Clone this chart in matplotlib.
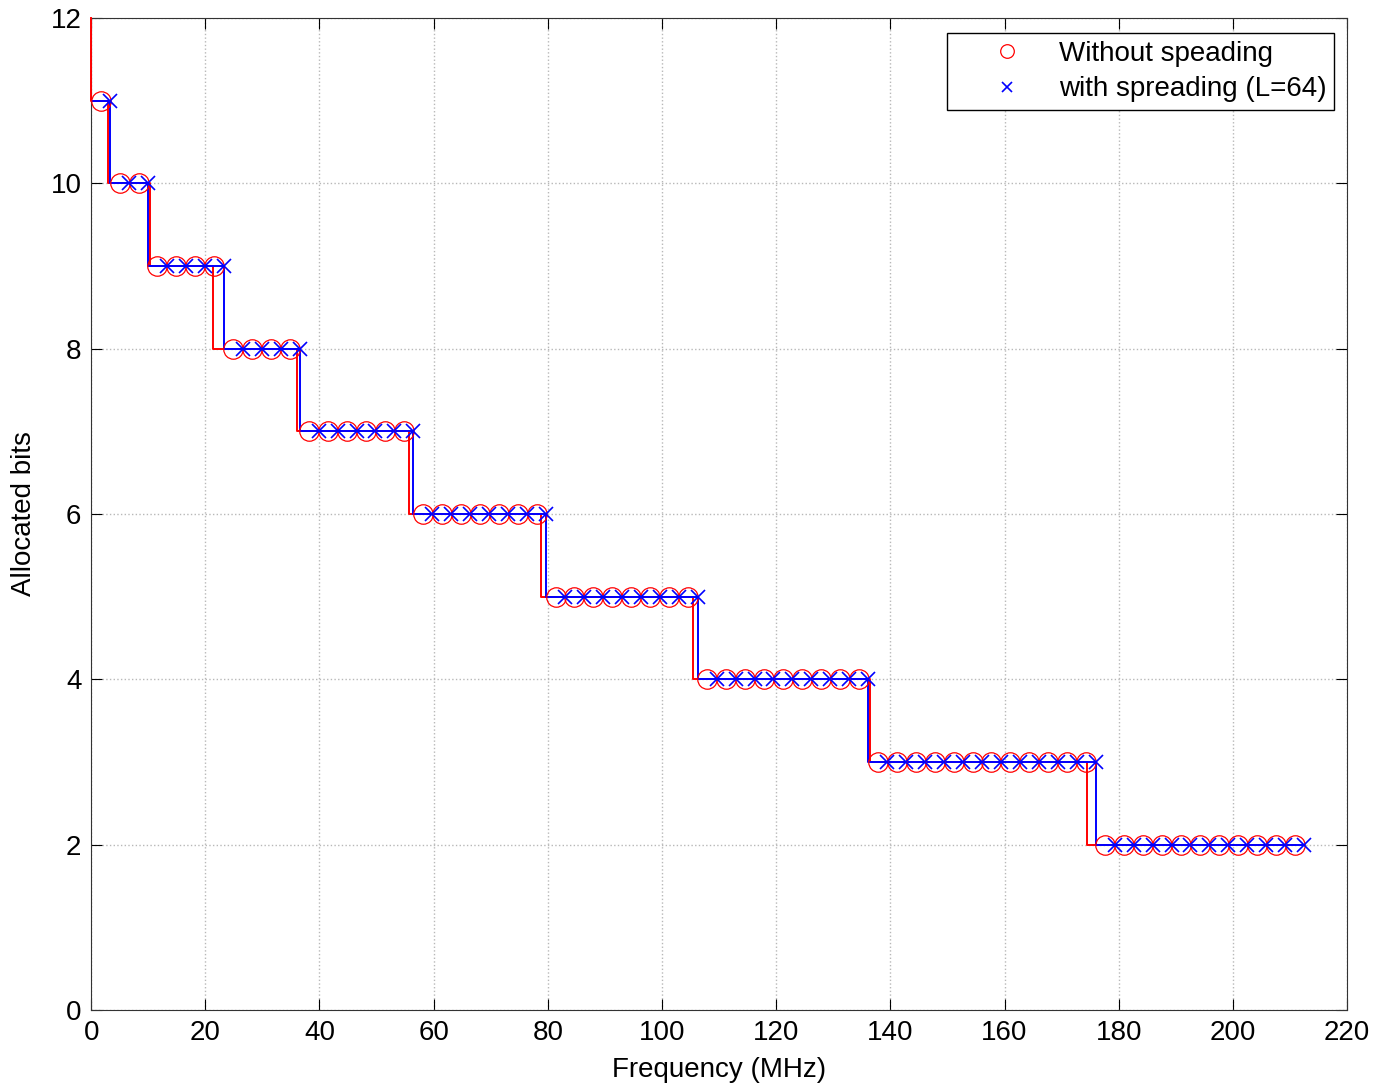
import numpy as np
import matplotlib.pyplot as plt

plt.rcParams['font.family'] = ['Liberation Sans', 'DejaVu Sans']

# --- data ---
DELTA = 3.3203                       # sub-band width (MHz), 212.5 / 64
bit_levels = [11, 10, 9, 8, 7, 6, 5, 4, 3, 2]
band_counts = [1, 2, 4, 4, 6, 7, 8, 9, 12, 11]   # sub-bands at each level

# frequencies (MHz) where the red (no spreading) curve drops a level
red_edges = [0.0, 3.0, 10.3, 21.4, 36.1, 55.7, 78.8, 105.4, 136.5, 174.5, 210.8]
red_start = 12

bits = np.repeat(bit_levels, band_counts)
k = np.arange(len(bits))
f_nospread = (k + 0.5) * DELTA       # circles sit at band centres
f_spread = (k + 1.0) * DELTA         # crosses sit at band edges

fig = plt.figure(figsize=(13.81, 10.86), dpi=100)
ax = fig.add_axes([0.066, 0.070, 0.9094, 0.9134])

# step lines
red_x = np.r_[red_edges[0], red_edges]
red_y = np.r_[red_start, bit_levels, bit_levels[-1]]
ax.step(red_x, red_y, where='post', color='red', lw=1.4, zorder=3, clip_on=False)
ax.step(np.r_[0, f_spread], np.r_[bit_levels[0], bits], where='pre',
        color='blue', lw=1.4, zorder=3)

# markers
ax.plot(f_nospread, bits, 'o', ls='none', mfc='none', mec='red', ms=14, mew=0.9,
        label='Without speading', zorder=3)
ax.plot(f_spread, bits, 'x', ls='none', color='blue', ms=10, mew=1.2,
        label='with spreading (L=64)', zorder=4)

ax.set_xlim(0, 220)
ax.set_ylim(0, 12)
ax.set_xticks(np.arange(0, 221, 20))
ax.set_yticks(np.arange(0, 13, 2))
ax.grid(True, ls=':', color='#b8b8b8', lw=1.0)
ax.tick_params(direction='in', top=True, right=True, length=8, labelsize=20, pad=7)
for s in ax.spines.values():
    s.set_color('#333333')
ax.set_xlabel('Frequency (MHz)', fontsize=20, labelpad=8)
ax.set_ylabel('Allocated bits', fontsize=20, labelpad=10)

leg = ax.legend(loc='upper right', fontsize=20, fancybox=False, framealpha=1,
                edgecolor='black', markerscale=0.7, handletextpad=0.0,
                borderpad=0.28, labelspacing=0.35, handlelength=3.74,
                borderaxespad=0, bbox_to_anchor=(0.9897, 0.985))
leg.get_frame().set_linewidth(1.0)

fig.savefig('out.png', dpi=100)
